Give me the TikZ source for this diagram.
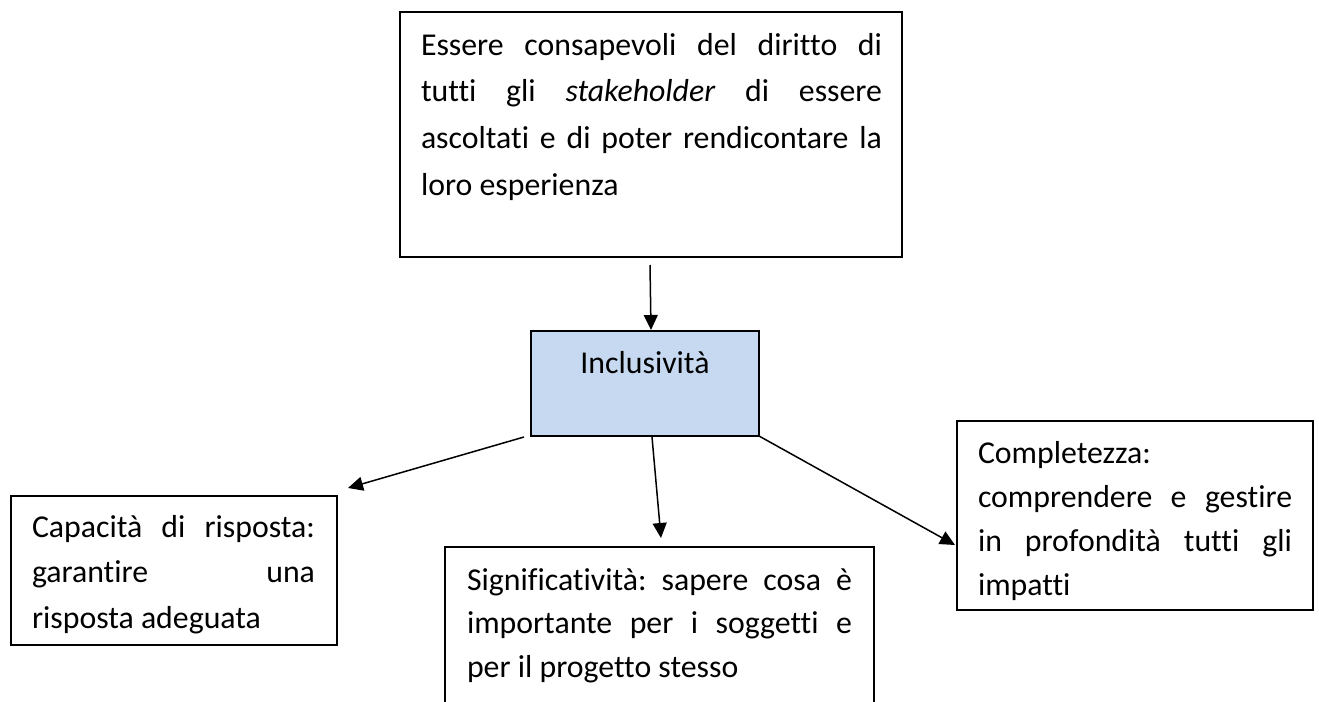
\documentclass[tikz,border=0pt]{standalone}
\usepackage{fontspec}
\setmainfont[Ligatures=NoCommon]{Carlito}
\usetikzlibrary{arrows.meta,calc}
\definecolor{incblue}{HTML}{C6D9F0}
\newdimen\padd
\newdimen\tw
\newcommand\J[1]{\moveright\padd\hbox to\tw{#1}}
\newcommand\N[1]{\moveright\padd\hbox{#1}}
% #1 width, #2 height, #3 first baseline from top, #4 baselineskip, #5 lines
\newcommand\boxtext[5]{\hbox to #1{\vbox to #2{\baselineskip=#4\relax\lineskiplimit=-100pt\relax\lineskip=0pt\relax\vskip\dimexpr#3-#4\relax\hbox{}#5\vfil}\hss}}
\tikzset{
  txtbox/.style={draw=black, line width=1.8pt, inner sep=0pt, outer sep=0pt, anchor=north west,
    font=\fontsize{31.8pt}{38pt}\selectfont},
  conn/.style={line width=1.5pt, -{Triangle[length=15pt,width=14pt]}}
}
\begin{document}
\begin{tikzpicture}[x=1pt,y=-1pt]
\useasboundingbox (0,0) rectangle (1319,701);
\clip (0,0) rectangle (1319,701);
\fill[white] (0,0) rectangle (1319,701);

\node[txtbox] (top) at (400,12) {\padd=21pt\tw=461pt\boxtext{502pt}{245pt}{43pt}{46.7pt}{%
\J{Essere\hfill consapevoli\hfill del\hfill diritto\hfill di}
\J{tutti\hfill gli\hfill \textit{stakeholder}\hfill di\hfill essere}
\J{ascoltati\hfill e\hfill di\hfill poter\hfill rendicontare\hfill la}
\N{loro esperienza}}};

\node[txtbox, fill=incblue] (inc) at (531,331) {\padd=0pt\tw=228pt\boxtext{228pt}{105pt}{42pt}{44pt}{%
\J{\hfil Inclusività\hfil}}};

\node[txtbox] (left) at (11,496) {\padd=21pt\tw=283pt\boxtext{326pt}{149pt}{41pt}{45.5pt}{%
\J{Capacità\hfill di\hfill risposta:}
\J{garantire\hfill una}
\N{risposta adeguata}}};

\node[txtbox] (mid) at (445,547) {\padd=22pt\tw=385pt\boxtext{429pt}{180pt}{43pt}{43.5pt}{%
\J{Significatività:\hfill sapere\hfill cosa\hfill è}
\J{importante\hfill per\hfill i\hfill soggetti\hfill e}
\N{per il progetto stesso}}};

\node[txtbox] (right) at (957,421) {\padd=21pt\tw=314pt\boxtext{356pt}{189pt}{42pt}{44pt}{%
\N{Completezza:}
\J{comprendere\hfill e\hfill gestire}
\J{in\hfill profondità\hfill tutti\hfill gli}
\N{impatti}}};

\draw[conn] ($(top.south)+(-1,8)$) -- ($(inc.north)+(6,-1)$);
\draw[conn] ($(inc.south west)+(-7,1)$) -- ($(left.north east)+(11,-8)$);
\draw[conn] ($(inc.south)+(7,1)$) -- ($(mid.north)+(1.5,-9)$);
\draw[conn] (inc.south east) -- ($(right.north west)+(-2,124)$);
\end{tikzpicture}
\end{document}
